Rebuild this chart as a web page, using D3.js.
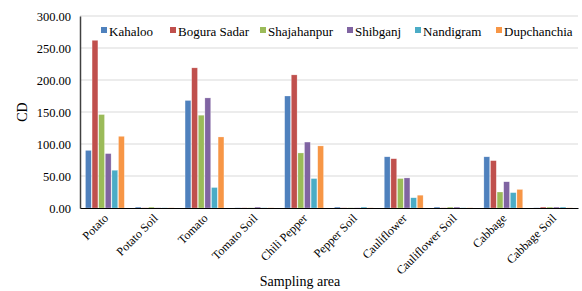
<!DOCTYPE html>
<html lang="en">
<head>
<meta charset="UTF-8">
<title>CD by sampling area</title>
<style>
  body { margin: 0; background: #fff; }
  svg text { font-family: "Liberation Serif", "Times New Roman", serif; fill: #000; }
</style>
</head>
<body>
<svg id="chart" width="582" height="291"></svg>
<script src="https://cdn.jsdelivr.net/npm/d3@7/dist/d3.min.js"></script>
<script>
// categories on the x axis
const categories = ["Potato", "Potato Soil", "Tomato", "Tomato Soil", "Chili Pepper",
    "Pepper Soil", "Cauliflower", "Cauliflower Soil", "Cabbage", "Cabbage Soil"];

const seriesNames = ["Kahaloo", "Bogura Sadar", "Shajahanpur", "Shibganj", "Nandigram", "Dupchanchia"];
const seriesColors = ["#4F81BD", "#C0504D", "#9BBB59", "#8064A2", "#4BACC6", "#F79646"];

// values, one array per area
const kahaloo     = [90, 1.5, 168, 0.3, 175, 1.5, 80, 1.5, 80, 0.3];
const boguraSadar = [262, 0.3, 219, 0.3, 208, 0.3, 77, 0.3, 74, 1.5];
const shajahanpur = [146, 1.5, 145, 0.3, 86, 0.3, 46, 1.5, 25, 1.5];
const shibganj    = [85, 0.3, 172, 1.5, 103, 0.3, 47, 1.5, 41, 1.5];
const nandigram   = [59, 0.3, 32, 0.3, 46, 1.5, 16, 0.3, 24, 1.5];
const dupchanchia = [112, 0.3, 111, 0.3, 97, 0.3, 20, 0.3, 29, 0.3];
const seriesValues = [kahaloo, boguraSadar, shajahanpur, shibganj, nandigram, dupchanchia];

const yTicks = [0, 50, 100, 150, 200, 250, 300];

const svg = d3.select("#chart");
const margin = {left: 80, right: 4, top: 16, bottom: 83};
const W = 582, H = 291;

const x = d3.scaleBand()
    .domain(categories)
    .range([margin.left, W - margin.right])
    .paddingInner(0.22)
    .paddingOuter(0.11);

const xs = d3.scaleBand()
    .domain(seriesNames)
    .range([0, x.bandwidth()])
    .paddingInner(0.12);

const y = d3.scaleLinear()
    .domain([0, 300])
    .range([H - margin.bottom, margin.top]);

// gridlines
svg.append("g")
    .selectAll("line")
    .data(yTicks.slice(1))
    .join("line")
    .attr("x1", margin.left)
    .attr("x2", W - margin.right)
    .attr("y1", d => y(d))
    .attr("y2", d => y(d))
    .attr("stroke", "#d9d9d9")
    .attr("stroke-width", 1);

// bars
const groups = svg.append("g")
    .selectAll("g")
    .data(categories)
    .join("g")
    .attr("transform", d => `translate(${x(d)},0)`);

groups.selectAll("rect")
    .data((c, i) => seriesNames.map((s, k) => ({s, k, v: seriesValues[k][i]})))
    .join("rect")
    .attr("x", d => xs(d.s))
    .attr("width", xs.bandwidth())
    .attr("y", d => y(d.v))
    .attr("height", d => y(0) - y(d.v))
    .attr("fill", d => seriesColors[d.k])
    .attr("stroke", "#fff")
    .attr("stroke-opacity", 0.5)
    .attr("stroke-width", 0.5);

// y axis
const yAxis = svg.append("g")
    .attr("transform", `translate(${margin.left},0)`)
    .call(d3.axisLeft(y).tickValues(yTicks).tickSize(0).tickPadding(9).tickFormat(d3.format(".2f")));
yAxis.select(".domain").attr("stroke", "#404040").attr("stroke-width", 1.5);
yAxis.selectAll("text").attr("font-size", 12.5).attr("font-family", "Liberation Serif");

// x axis
const xAxis = svg.append("g")
    .attr("transform", `translate(0,${y(0)})`)
    .call(d3.axisBottom(x).tickSize(0).tickPadding(0));
xAxis.select(".domain").attr("stroke", "#000").attr("stroke-width", 1.2);
xAxis.selectAll("text")
    .attr("font-size", 12)
    .attr("font-family", "Liberation Serif")
    .attr("text-anchor", "end")
    .attr("dy", null)
    .attr("y", 0)
    .attr("transform", "translate(4,11) rotate(-45)");

// axis titles
svg.append("text")
    .attr("transform", `translate(27,${(margin.top + y(0)) / 2}) rotate(-90)`)
    .attr("text-anchor", "middle")
    .attr("font-size", 14)
    .text("CD");

svg.append("text")
    .attr("x", 300)
    .attr("y", 286)
    .attr("text-anchor", "middle")
    .attr("font-size", 14)
    .text("Sampling area");

// legend
const legendX = [101, 170, 260, 347, 415, 496];
const legend = svg.append("g")
    .selectAll("g")
    .data(seriesNames)
    .join("g")
    .attr("transform", (d, i) => `translate(${legendX[i]},31)`);
legend.append("rect")
    .attr("x", 0).attr("y", -4)
    .attr("width", 6).attr("height", 6)
    .attr("fill", (d, i) => seriesColors[i]);
legend.append("text")
    .attr("x", 8)
    .attr("y", 0)
    .attr("dy", "0.35em")
    .attr("font-size", 13)
    .text(d => d);
</script>
</body>
</html>
